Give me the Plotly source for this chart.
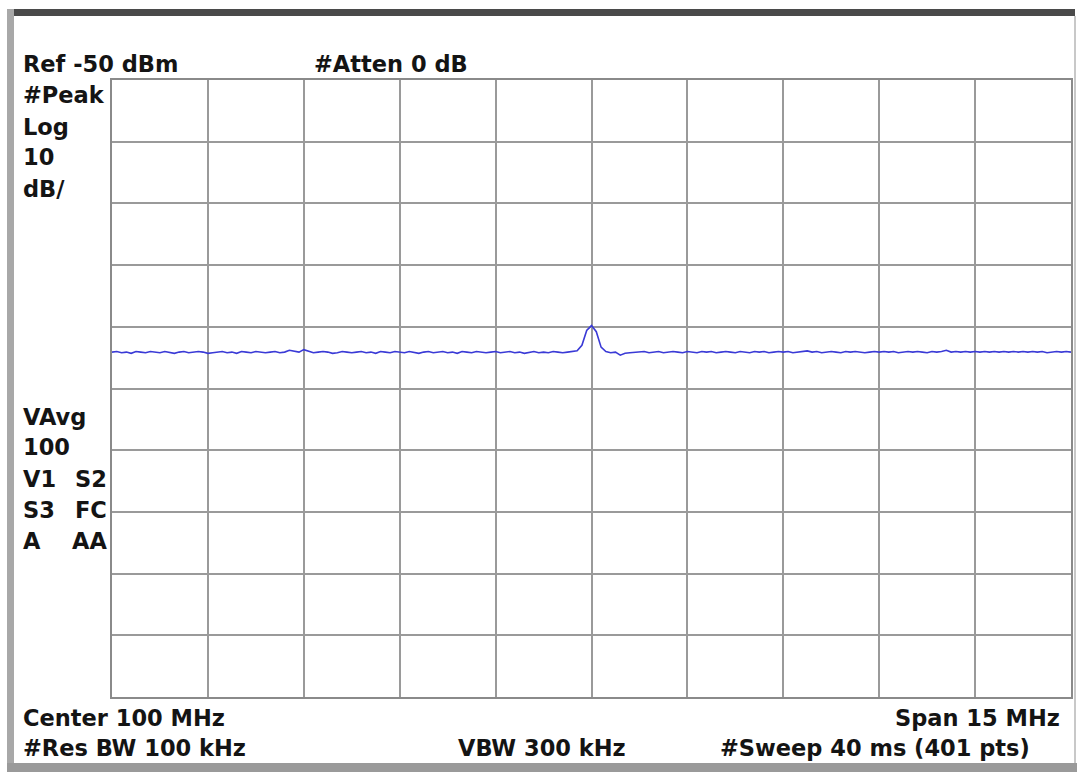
import numpy as np
import plotly.graph_objects as go

# ---- data ----
center_mhz = 100.0
span_mhz = 15.0
ref_dbm = -50.0
db_per_div = 10.0
n_div = 10

freq_start = center_mhz - span_mhz / 2
freq_stop = center_mhz + span_mhz / 2
n_pts = 201
freqs = np.linspace(freq_start, freq_stop, n_pts)

levels = [
    -94.1, -94.0, -94.2, -94.1, -94.3, -94.0, -94.1, -94.2, -94.0, -94.1,
    -94.2, -94.0, -94.1, -94.3, -94.1, -94.0, -94.2, -94.1, -94.0, -94.1,
    -94.3, -94.2, -94.1, -94.0, -94.2, -94.1, -94.3, -94.0, -94.1, -94.2,
    -94.0, -94.1, -94.2, -94.1, -94.0, -94.2, -94.1, -93.8, -94.0, -94.1,
    -93.7, -94.0, -94.2, -94.1, -94.0, -94.1, -94.3, -94.2, -94.0, -94.1,
    -94.2, -94.1, -94.0, -94.2, -94.1, -94.3, -94.0, -94.1, -94.2, -94.0,
    -94.1, -94.2, -94.0, -94.1, -94.3, -94.1, -94.0, -94.2, -94.1, -94.0,
    -94.2, -94.1, -94.3, -94.0, -94.1, -94.2, -94.0, -94.1, -94.2, -94.1,
    -94.0, -94.2, -94.1, -94.0, -94.2, -94.1, -94.3, -94.1, -94.0, -94.2,
    -94.1, -94.2, -94.0, -94.1, -94.2, -94.1, -94.0, -93.9, -93.0, -90.6,
    -89.8, -90.8, -93.3, -94.0, -94.2, -94.1, -94.6, -94.3, -94.2, -94.1,
    -94.1, -94.0, -94.2, -94.1, -94.0, -94.2, -94.1, -94.0, -94.1, -94.2,
    -94.0, -94.1, -94.2, -94.0, -94.1, -94.0, -94.2, -94.1, -94.0, -94.1,
    -94.2, -94.0, -94.1, -94.2, -94.0, -94.1, -94.0, -94.2, -94.1, -94.0,
    -94.1, -94.0, -94.2, -94.1, -94.0, -93.9, -94.1, -94.0, -94.2, -94.1,
    -94.0, -94.1, -94.2, -94.0, -94.1, -94.0, -94.1, -94.2, -94.1, -94.0,
    -94.1, -94.0, -94.1, -94.0, -94.2, -94.1, -94.0, -94.1, -94.0, -94.1,
    -94.2, -94.0, -94.1, -94.0, -93.8, -94.1, -94.0, -94.1, -94.0, -94.1,
    -94.0, -94.1, -94.0, -94.1, -94.0, -94.1, -94.0, -94.1, -94.0, -94.1,
    -94.0, -94.1, -94.0, -94.1, -94.0, -94.2, -94.1, -94.0, -94.1, -94.0,
    -94.1,
]

top_labels = ["Ref -50 dBm", "#Atten 0 dB"]
left_labels_top = ["#Peak", "Log", "10", "dB/"]
left_labels_mid = [("VAvg", ""), ("100", ""), ("V1", "S2"), ("S3", "FC"), ("A", "AA")]
bottom_left = ["Center 100 MHz", "#Res BW 100 kHz"]
bottom_mid = "VBW 300 kHz"
bottom_right = ["Span 15 MHz", "#Sweep 40 ms (401 pts)"]

# ---- layout geometry ----
W, H = 1079, 775
px_l, px_r, px_t, px_b = 112, 1071, 80, 697

def xp(px):
    return px / W

def yp(py):
    return 1 - py / H

FONT = "DejaVu Sans"
TXT = "#141414"
fs = 22.5

fig = go.Figure()
fig.add_trace(go.Scatter(
    x=freqs, y=levels, mode="lines",
    line=dict(color="#3a3ad6", width=1.6),
    hoverinfo="skip", showlegend=False,
))

grid_col = "#9a9a9a"
fig.update_layout(
    width=W, height=H,
    margin=dict(l=0, r=0, t=0, b=0),
    paper_bgcolor="white", plot_bgcolor="white",
    xaxis=dict(
        domain=[xp(px_l), xp(px_r)],
        range=[freq_start, freq_stop],
        dtick=span_mhz / n_div, tick0=freq_start,
        showgrid=True, gridcolor=grid_col, gridwidth=2,
        showticklabels=False, ticks="", zeroline=False,
        showline=True, linecolor="#8a8a8a", linewidth=2, mirror=True,
    ),
    yaxis=dict(
        domain=[yp(px_b), yp(px_t)],
        range=[ref_dbm - n_div * db_per_div, ref_dbm],
        dtick=db_per_div, tick0=ref_dbm,
        showgrid=True, gridcolor=grid_col, gridwidth=2,
        showticklabels=False, ticks="", zeroline=False,
        showline=True, linecolor="#8a8a8a", linewidth=2, mirror=True,
    ),
)

annots = []

def add(text, x, y, anchor="left", size=fs):
    annots.append(dict(
        text=f"<b>{text}</b>", xref="paper", yref="paper",
        x=xp(x), y=yp(y), xanchor=anchor, yanchor="middle",
        showarrow=False, font=dict(family=FONT, size=size, color=TXT),
    ))

add(top_labels[0], 21, 64)
add(top_labels[1], 312, 64)
for lab, py in zip(left_labels_top, [95, 127, 157, 189]):
    add(lab, 21, py)
for (a, b), py in zip(left_labels_mid, [417, 447, 479, 510, 541]):
    add(a, 21, py)
    if b:
        add(b, 109, py, anchor="right")
add(bottom_left[0], 21, 718)
add(bottom_left[1], 21, 748)
add(bottom_mid, 456, 748)
add(bottom_right[0], 1062, 718, anchor="right")
add(bottom_right[1], 1032, 748, anchor="right")

fig.update_layout(annotations=annots)

# instrument frame (decorative)
shapes = [
    dict(type="rect", xref="paper", yref="paper", x0=xp(8), x1=xp(1075), y0=yp(16), y1=yp(9),
         fillcolor="#4a4a4a", line=dict(width=0), layer="above"),
    dict(type="rect", xref="paper", yref="paper", x0=xp(7), x1=xp(14), y0=yp(770), y1=yp(9),
         fillcolor="#a8a8a8", line=dict(width=0), layer="above"),
    dict(type="rect", xref="paper", yref="paper", x0=xp(7), x1=xp(1077), y0=yp(772), y1=yp(763),
         fillcolor="#9a9a9a", line=dict(width=0), layer="above"),
    dict(type="line", xref="paper", yref="paper", x0=xp(1075), x1=xp(1075), y0=yp(763), y1=yp(16),
         line=dict(color="#c8c8c8", width=2), layer="above"),
]
fig.update_layout(shapes=shapes)

fig.write_html(
    "out.html",
    config={"displayModeBar": False},
    post_script="document.body.style.margin='0';document.body.style.overflow='hidden';",
)
